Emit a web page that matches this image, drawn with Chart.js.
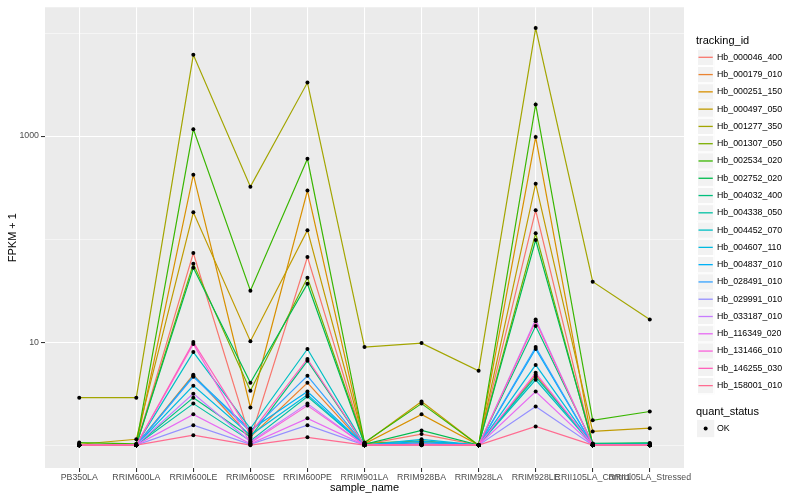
<!DOCTYPE html>
<html>
<head>
<meta charset="utf-8">
<script src="https://cdn.jsdelivr.net/npm/chart.js@4.4.1/dist/chart.umd.min.js"></script>
<style>
  html, body { margin: 0; padding: 0; background: #fff; }
  #wrap { width: 800px; height: 500px; }
</style>
</head>
<body>
<div id="wrap"><canvas id="chart" width="800" height="500"></canvas></div>
<script>
const samples = ['PB350LA', 'RRIM600LA', 'RRIM600LE', 'RRIM600SE', 'RRIM600PE', 'RRIM901LA',
  'RRIM928BA', 'RRIM928LA', 'RRIM928LE', 'RRII105LA_Control', 'RRII105LA_Stressed'];

const trackingIds = ['Hb_000046_400', 'Hb_000179_010', 'Hb_000251_150', 'Hb_000497_050', 'Hb_001277_350',
  'Hb_001307_050', 'Hb_002534_020', 'Hb_002752_020', 'Hb_004032_400', 'Hb_004338_050',
  'Hb_004452_070', 'Hb_004607_110', 'Hb_004837_010', 'Hb_028491_010', 'Hb_029991_010',
  'Hb_033187_010', 'Hb_116349_020', 'Hb_131466_010', 'Hb_146255_030', 'Hb_158001_010'];

const seriesColors = ['#F8766D', '#EA8331', '#D89000', '#C09B00', '#A3A500', '#7CAE00', '#39B600', '#00BB4E',
  '#00BF7D', '#00C1A3', '#00BFC4', '#00BAE0', '#00B0F6', '#35A2FF', '#9590FF', '#C77CFF',
  '#E76BF3', '#FA62DB', '#FF62BC', '#FF6C91'];

// FPKM + 1, one value per sample
const hb000046_400 = [1, 1, 73.3, 1.15, 67, 1.02, 1.28, 1, 190, 1, 1];
const hb000179_010 = [1, 1, 4.82, 1.2, 4.03, 1, 1.05, 1, 4.82, 1, 1];
const hb000251_150 = [1, 1, 422, 2.32, 296, 1.03, 1.99, 1, 978, 1, 1];
const hb000497_050 = [1.02, 1.14, 182, 10.2, 122, 1.05, 2.65, 1, 345, 1.36, 1.46];
const hb001277_350 = [2.89, 2.89, 6140, 323, 3305, 8.95, 9.78, 5.26, 11170, 38.6, 16.6];
const hb001307_050 = [1, 1, 57.5, 3.38, 42.2, 1.04, 1.1, 1, 114, 1, 1];
const hb002534_020 = [1.06, 1.03, 1167, 31.6, 601, 1.06, 2.53, 1, 2030, 1.74, 2.12];
const hb002752_020 = [1, 1, 52.6, 4.03, 36.9, 1.02, 1.39, 1, 97.8, 1.04, 1.05];
const hb004032_400 = [1, 1, 2.89, 1.2, 6.58, 1, 1.05, 1, 14.3, 1.03, 1.04];
const hb004338_050 = [1, 1, 2.53, 1.1, 2.96, 1, 1.02, 1, 4.61, 1.02, 1.03];
const hb004452_070 = [1, 1, 8.0, 1.45, 8.57, 1, 1.03, 1, 4.31, 1, 1];
const hb004607_110 = [1, 1, 3.78, 1.25, 3.09, 1, 1.14, 1, 6.01, 1, 1];
const hb004837_010 = [1, 1, 4.71, 1.4, 3.31, 1, 1.09, 1, 8.57, 1, 1];
const hb028491_010 = [1, 1, 4.61, 1.35, 4.71, 1, 1.04, 1, 8.95, 1, 1];
const hb029991_010 = [1, 1, 1.56, 1.02, 1.56, 1, 1, 1, 2.37, 1, 1];
const hb033187_010 = [1, 1, 3.16, 1.08, 2.53, 1, 1.02, 1, 16.6, 1, 1];
const hb116349_020 = [1, 1, 1.99, 1.03, 1.82, 1, 1.01, 1, 3.31, 1, 1];
const hb131466_010 = [1, 1, 9.6, 1.05, 2.42, 1, 1.01, 1, 5.03, 1, 1];
const hb146255_030 = [1, 1, 10.0, 1.3, 6.86, 1, 1.02, 1, 15.9, 1, 1];
const hb158001_010 = [1, 1, 1.25, 1, 1.19, 1, 1, 1, 1.52, 1, 1];

const seriesValues = [hb000046_400, hb000179_010, hb000251_150, hb000497_050, hb001277_350,
  hb001307_050, hb002534_020, hb002752_020, hb004032_400, hb004338_050,
  hb004452_070, hb004607_110, hb004837_010, hb028491_010, hb029991_010,
  hb033187_010, hb116349_020, hb131466_010, hb146255_030, hb158001_010];

const yGridValues = [1, 10, 100, 1000, 10000];
const yTickLabels = { 10: '10', 1000: '1000' };

const FONT = "'Liberation Sans', Arial, Helvetica, sans-serif";

// grey panel behind the grid
const panelBg = {
  id: 'panelBg',
  beforeDraw(chart) {
    const { ctx, chartArea: a } = chart;
    ctx.save();
    ctx.fillStyle = '#EBEBEB';
    ctx.fillRect(a.left, a.top, a.right - a.left, a.bottom - a.top);
    ctx.restore();
  }
};

// ggplot style legend on the right
const ggLegend = {
  id: 'ggLegend',
  afterDraw(chart) {
    const ctx = chart.ctx;
    const x0 = 697, key = 17.28;
    ctx.save();
    ctx.textBaseline = 'middle';
    ctx.textAlign = 'left';
    ctx.fillStyle = '#000';
    ctx.font = `11px ${FONT}`;
    ctx.fillText('tracking_id', 696, 41);
    trackingIds.forEach((name, i) => {
      const cy = 57.3 + i * key;
      const top = cy - key / 2;
      ctx.fillStyle = '#F2F2F2';
      ctx.fillRect(x0, top, key, key);
      ctx.strokeStyle = '#FFFFFF';
      ctx.lineWidth = 1;
      ctx.strokeRect(x0 + 0.5, top + 0.5, key - 1, key - 1);
      ctx.strokeStyle = seriesColors[i];
      ctx.lineWidth = 1.3;
      ctx.beginPath();
      ctx.moveTo(x0 + 1.5, cy);
      ctx.lineTo(x0 + key - 1.5, cy);
      ctx.stroke();
      ctx.fillStyle = '#000';
      ctx.font = `8.8px ${FONT}`;
      ctx.fillText(name, 717, cy);
    });
    ctx.font = `11px ${FONT}`;
    ctx.fillText('quant_status', 696, 412);
    const cy = 428.5;
    ctx.fillStyle = '#F2F2F2';
    ctx.fillRect(x0, cy - key / 2, key, key);
    ctx.fillStyle = '#000';
    ctx.beginPath();
    ctx.arc(x0 + key / 2, cy, 2, 0, Math.PI * 2);
    ctx.fill();
    ctx.font = `8.8px ${FONT}`;
    ctx.fillText('OK', 717, cy);
    ctx.restore();
  }
};

const lineSets = seriesValues.map((vals, i) => ({
  type: 'line',
  label: trackingIds[i],
  data: vals.map((v, j) => ({ x: j, y: v })),
  borderColor: seriesColors[i],
  backgroundColor: seriesColors[i],
  borderWidth: 1.2,
  pointRadius: 0,
  tension: 0,
  order: 21 - i
}));

const pointSet = {
  type: 'scatter',
  label: 'OK',
  data: seriesValues.flatMap(vals => vals.map((v, j) => ({ x: j, y: v }))),
  backgroundColor: '#000000',
  borderWidth: 0,
  pointRadius: 2,
  order: 0
};

new Chart(document.getElementById('chart'), {
  type: 'line',
  data: { datasets: [pointSet, ...lineSets] },
  options: {
    responsive: false,
    animation: false,
    layout: { padding: { left: 0, right: 116, top: 5, bottom: 0 } },
    plugins: { legend: { display: false }, tooltip: { enabled: false } },
    scales: {
      x: {
        type: 'linear',
        min: -0.6,
        max: samples.length - 1 + 0.6,
        afterBuildTicks: s => { s.ticks = samples.map((_, i) => ({ value: i })); },
        afterFit: s => { s.height = 32; },
        ticks: {
          callback: v => samples[v],
          autoSkip: false,
          maxRotation: 0,
          minRotation: 0,
          padding: 0,
          color: '#4D4D4D',
          font: { family: FONT, size: 8.8 }
        },
        grid: { color: '#FFFFFF', lineWidth: 1.07, tickLength: 4, tickColor: '#333333', tickWidth: 1.07 },
        border: { display: false },
        title: { display: true, text: 'sample_name', color: '#000', font: { family: FONT, size: 11 }, padding: { top: 0, bottom: 5 } }
      },
      y: {
        type: 'logarithmic',
        min: Math.pow(10, -0.202),
        max: Math.pow(10, 4.25),
        afterBuildTicks: s => { s.ticks = yGridValues.map(v => ({ value: v })); },
        afterFit: s => { s.width = 45; },
        ticks: {
          callback: v => yTickLabels[v] || '',
          autoSkip: false,
          padding: 2,
          color: '#4D4D4D',
          font: { family: FONT, size: 8.8 }
        },
        grid: {
          color: '#FFFFFF',
          lineWidth: c => (c.tick && yTickLabels[c.tick.value]) ? 1.07 : 0.53,
          tickLength: 4,
          tickWidth: 1.07,
          tickColor: c => (c.tick && yTickLabels[c.tick.value]) ? '#333333' : 'rgba(0,0,0,0)'
        },
        border: { display: false },
        title: { display: true, text: 'FPKM + 1', color: '#000', font: { family: FONT, size: 11 }, padding: { top: 6, bottom: 0 } }
      }
    }
  },
  plugins: [panelBg, ggLegend]
});
</script>
</body>
</html>
